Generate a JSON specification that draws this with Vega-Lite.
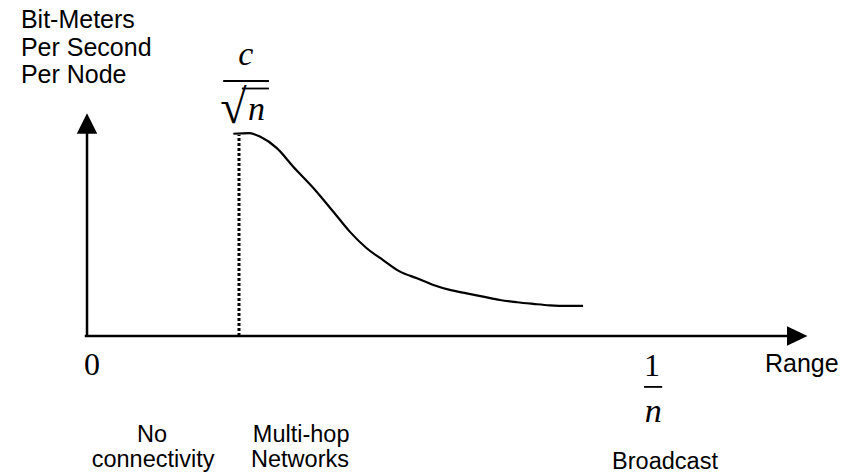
{
  "$schema": "https://vega.github.io/schema/vega-lite/v6.json",
  "width": 854,
  "height": 474,
  "autosize": {"type": "fit", "contains": "padding"},
  "padding": 0,
  "background": "white",
  "config": {"view": {"stroke": null}},
  "datasets": {
    "curve": [
      {"range": 0.259, "rate": 0.996},
      {"range": 0.288, "rate": 0.999},
      {"range": 0.306, "rate": 0.982},
      {"range": 0.336, "rate": 0.925},
      {"range": 0.365, "rate": 0.834},
      {"range": 0.401, "rate": 0.728},
      {"range": 0.436, "rate": 0.612},
      {"range": 0.465, "rate": 0.514},
      {"range": 0.495, "rate": 0.432},
      {"range": 0.524, "rate": 0.374},
      {"range": 0.554, "rate": 0.317},
      {"range": 0.584, "rate": 0.284},
      {"range": 0.613, "rate": 0.251},
      {"range": 0.642, "rate": 0.227},
      {"range": 0.672, "rate": 0.210},
      {"range": 0.701, "rate": 0.194},
      {"range": 0.731, "rate": 0.177},
      {"range": 0.761, "rate": 0.166},
      {"range": 0.790, "rate": 0.158},
      {"range": 0.819, "rate": 0.151},
      {"range": 0.849, "rate": 0.148},
      {"range": 0.878, "rate": 0.148}
    ],
    "axes": [
      {"x": -0.004, "x2": 1.24, "y": 0, "y2": 0},
      {"x": 0, "x2": 0, "y": -0.004, "y2": 1.03}
    ],
    "bars": [
      {"x": 0.241, "x2": 0.322, "y": 1.256, "y2": 1.256},
      {"x": 0.986, "x2": 1.018, "y": -0.251, "y2": -0.251},
      {"x": 0.274, "x2": 0.322, "y": 1.219, "y2": 1.219}
    ],
    "dotted": [{"x": 0.269, "x2": 0.269, "y": 0, "y2": 0.99}],
    "arrows": [
      {"x": 0, "y": 1.047, "dir": "up"},
      {"x": 1.257, "y": 0, "dir": "right"}
    ],
    "sansLarge": [
      {"label": "Bit-Meters", "x": -0.117, "y": 1.517},
      {"label": "Per Second", "x": -0.117, "y": 1.379},
      {"label": "Per Node", "x": -0.117, "y": 1.246},
      {"label": "Range", "x": 1.2, "y": -0.177}
    ],
    "sansSmall": [
      {"label": "No", "x": 0.115, "y": -0.522},
      {"label": "connectivity", "x": 0.117, "y": -0.645},
      {"label": "Multi-hop", "x": 0.379, "y": -0.522},
      {"label": "Networks", "x": 0.377, "y": -0.645},
      {"label": "Broadcast", "x": 1.023, "y": -0.655}
    ],
    "serifRoman": [
      {"label": "0", "x": 0.009, "y": -0.192},
      {"label": "1", "x": 1.0, "y": -0.197}
    ],
    "radical": [
      {"label": "√", "x": 0.259, "y": 1.049}
    ],
    "serifItalic": [
      {"label": "c", "x": 0.281, "y": 1.335},
      {"label": "n", "x": 0.300, "y": 1.064},
      {"label": "n", "x": 1.002, "y": -0.424}
    ]
  },
  "layer": [
    {
      "data": {"name": "axes"},
      "mark": {"type": "rule", "color": "black", "strokeWidth": 2.5},
      "encoding": {
        "x": {"field": "x", "type": "quantitative", "axis": null, "scale": {"domain": [-0.154, 1.3575], "nice": false, "zero": false}},
        "x2": {"field": "x2"},
        "y": {"field": "y", "type": "quantitative", "axis": null, "scale": {"domain": [-0.68, 1.655], "nice": false, "zero": false}},
        "y2": {"field": "y2"}
      }
    },
    {
      "data": {"name": "bars"},
      "mark": {"type": "rule", "color": "black", "strokeWidth": 1.8},
      "encoding": {
        "x": {"field": "x", "type": "quantitative"},
        "x2": {"field": "x2"},
        "y": {"field": "y", "type": "quantitative"},
        "y2": {"field": "y2"}
      }
    },
    {
      "data": {"name": "dotted"},
      "mark": {"type": "rule", "color": "black", "strokeWidth": 3, "strokeDash": [3, 2]},
      "encoding": {
        "x": {"field": "x", "type": "quantitative"},
        "x2": {"field": "x2"},
        "y": {"field": "y", "type": "quantitative"},
        "y2": {"field": "y2"}
      }
    },
    {
      "data": {"name": "curve"},
      "mark": {"type": "line", "color": "black", "strokeWidth": 2.2, "interpolate": "monotone"},
      "encoding": {
        "x": {"field": "range", "type": "quantitative"},
        "y": {"field": "rate", "type": "quantitative"}
      }
    },
    {
      "data": {"name": "arrows"},
      "mark": {"type": "point", "filled": true, "color": "black", "opacity": 1, "size": 420, "strokeWidth": 0},
      "encoding": {
        "x": {"field": "x", "type": "quantitative"},
        "y": {"field": "y", "type": "quantitative"},
        "shape": {"field": "dir", "type": "nominal", "legend": null, "scale": {"domain": ["up", "right"], "range": ["M0,-1L-1,1L1,1Z", "M1,0L-1,-0.95L-1,0.95Z"]}}
      }
    },
    {
      "data": {"name": "sansLarge"},
      "mark": {"type": "text", "font": "Liberation Sans", "fontSize": 25, "align": "left", "baseline": "alphabetic", "color": "black"},
      "encoding": {
        "x": {"field": "x", "type": "quantitative"},
        "y": {"field": "y", "type": "quantitative"},
        "text": {"field": "label"}
      }
    },
    {
      "data": {"name": "sansSmall"},
      "mark": {"type": "text", "font": "Liberation Sans", "fontSize": 23.5, "align": "center", "baseline": "alphabetic", "color": "black"},
      "encoding": {
        "x": {"field": "x", "type": "quantitative"},
        "y": {"field": "y", "type": "quantitative"},
        "text": {"field": "label"}
      }
    },
    {
      "data": {"name": "serifRoman"},
      "mark": {"type": "text", "font": "Liberation Serif", "fontSize": 32, "align": "center", "baseline": "alphabetic", "color": "black"},
      "encoding": {
        "x": {"field": "x", "type": "quantitative"},
        "y": {"field": "y", "type": "quantitative"},
        "text": {"field": "label"}
      }
    },
    {
      "data": {"name": "radical"},
      "mark": {"type": "text", "font": "Liberation Serif", "fontSize": 48, "align": "center", "baseline": "alphabetic", "color": "black"},
      "encoding": {
        "x": {"field": "x", "type": "quantitative"},
        "y": {"field": "y", "type": "quantitative"},
        "text": {"field": "label"}
      }
    },
    {
      "data": {"name": "serifItalic"},
      "mark": {"type": "text", "font": "Liberation Serif", "fontStyle": "italic", "fontSize": 34, "align": "center", "baseline": "alphabetic", "color": "black"},
      "encoding": {
        "x": {"field": "x", "type": "quantitative"},
        "y": {"field": "y", "type": "quantitative"},
        "text": {"field": "label"}
      }
    }
  ]
}
